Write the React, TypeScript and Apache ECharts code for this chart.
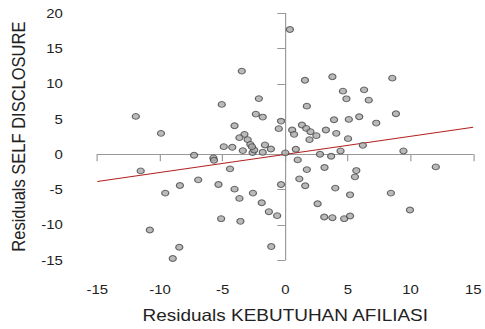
import React, { useEffect, useRef } from "react";
import * as echarts from "echarts";

const xTicks = [-15, -10, -5, 0, 5, 10, 15];
const yTicks = [-15, -10, -5, 0, 5, 10, 15, 20];

const residX = [
  0.37, -3.47, 1.57, 3.76, 8.54, -2.11, -5.07, 1.72, 4.6, 4.88,
  6.29, 6.66, -11.93, -2.35, -1.8, -0.34, 3.89, 5.07, 5.9, 8.83,
  7.26, -9.92, -4.05, -0.52, 0.55, 0.7, 1.33, 1.67, 2.01, 1.93,
  2.48, 3.24, 4.07, 5.01, -3.26, -3.66, -3.0, -2.79, -4.91, -4.23,
  -3.39, -2.61, -2.48, -1.62, -1.8, -1.15, 0, 0.84, 6.19, 9.43,
  4.41, 2.77, 3.66, -7.28, -5.74, -5.69, 0.99, -11.54, -4.41, 1.72,
  3.13, 5.67, 5.56, 12.01, 1.12, -6.95, -8.41, -9.58, -5.33, -4.05,
  -2.58, -0.34, 1.59, 3.99, 5.17, 8.43, -3.66, -1.88, 2.58, 9.95,
  -1.31, -0.65, -5.12, -3.58, 3.11, 3.76, 4.7, 5.17, -10.81, -8.46,
  -1.12, -8.98, -2.66,
];
const residY = [
  17.7, 11.8, 10.5, 11.0, 10.8, 7.9, 7.07, 6.83, 8.95, 7.87,
  9.14, 7.68, 5.37, 5.7, 5.28, 4.71, 4.9, 4.95, 5.32, 5.75,
  4.43, 2.97, 4.05, 3.63, 3.44, 2.83, 4.15, 3.67, 3.2, 2.07,
  2.64, 3.44, 2.97, 2.21, 2.83, 2.36, 2.07, 1.41, 1.08, 0.99,
  0.52, 0.24, 0.61, 1.32, 0.28, 0.75, 0.19, 0.71, 1.27, 0.47,
  0.47, 0, -0.28, -0.14, -0.52, -0.85, -0.8, -2.36, -2.07, -2.17,
  -1.88, -2.31, -3.2, -1.79, -3.49, -3.63, -4.43, -5.51, -4.29, -4.95,
  -5.51, -4.29, -4.47, -4.8, -5.75, -5.51, -6.26, -6.88, -7.02, -7.91,
  -8.15, -8.71, -9.14, -9.51, -8.9, -9.0, -9.14, -8.76, -10.74, -13.19,
  -13.09, -14.79, 1.08,
];

const fitX = [-15, 15];
const fitY = [-3.86, 3.82];

const INNER_W = 422;
const OUTER_W = 485;
const H = 329;
const FONT = "'Liberation Sans', Arial, Helvetica, sans-serif";

export default function App() {
  const ref = useRef<HTMLDivElement>(null);

  useEffect(() => {
    if (!ref.current) return;
    const chart = echarts.init(ref.current, undefined, { renderer: "svg" });
    const points = residX.map((x, i) => [x, residY[i]]);
    const fit = fitX.map((x, i) => [x, fitY[i]]);
    chart.setOption({
      animation: false,
      textStyle: { fontFamily: FONT },
      grid: { left: 80.7, right: 8.1, top: 13.3, bottom: 68 },
      xAxis: {
        type: "value",
        min: xTicks[0],
        max: xTicks[xTicks.length - 1],
        interval: 5,
        offset: 13,
        name: "Residuals KEBUTUHAN AFILIASI",
        nameLocation: "middle",
        nameGap: 34,
        nameTextStyle: { fontSize: 16.5, color: "#222", fontFamily: FONT },
        axisLine: { show: true, lineStyle: { color: "#999", width: 1 } },
        axisTick: { show: true, length: 7, lineStyle: { color: "#999" } },
        axisLabel: { fontSize: 13, color: "#222", margin: 10, fontFamily: FONT },
        splitLine: { show: false },
      },
      yAxis: {
        type: "value",
        min: yTicks[0],
        max: yTicks[yTicks.length - 1],
        interval: 5,
        offset: 17,
        name: "Residuals SELF DISCLOSURE",
        nameLocation: "middle",
        nameGap: 40,
        nameTextStyle: { fontSize: 16.5, color: "#222", fontFamily: FONT },
        axisLine: { show: true, lineStyle: { color: "#999", width: 1 } },
        axisTick: { show: true, length: 7, lineStyle: { color: "#999" } },
        axisLabel: { fontSize: 13, color: "#222", margin: 13, fontFamily: FONT },
        splitLine: { show: false },
      },
      series: [
        {
          type: "line",
          data: fit,
          symbol: "none",
          lineStyle: { color: "#b22222", width: 1 },
          z: 1,
        },
        {
          type: "scatter",
          data: points,
          symbol: "circle",
          symbolSize: [6.2, 5.8],
          itemStyle: { color: "#a9a9a9", borderColor: "#444", borderWidth: 1 },
          z: 2,
        },
      ],
    });
    return () => chart.dispose();
  }, []);

  return (
    <div
      style={{
        position: "fixed",
        left: 0,
        top: 0,
        width: OUTER_W,
        height: H,
        overflow: "hidden",
        background: "#fff",
      }}
    >
      <div
        ref={ref}
        style={{
          width: INNER_W,
          height: H,
          transform: `scaleX(${OUTER_W / INNER_W})`,
          transformOrigin: "0 0",
        }}
      />
    </div>
  );
}
